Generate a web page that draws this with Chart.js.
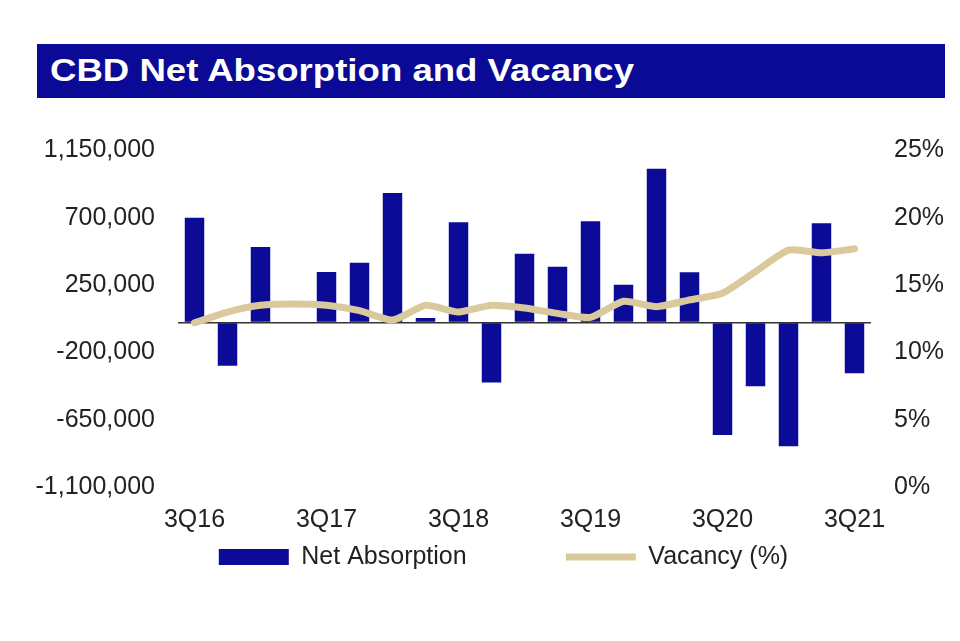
<!DOCTYPE html>
<html>
<head>
<meta charset="utf-8">
<script src="https://cdn.jsdelivr.net/npm/chart.js@4"></script>
<style>
  html, body { margin: 0; padding: 0; background: #fff; }
  body { width: 960px; height: 641px; position: relative; overflow: hidden; font-family: "Liberation Sans", Arial, sans-serif; }
  .banner { position: absolute; left: 37px; top: 44px; width: 908px; height: 54px; background: #0A0A96; }
  .banner span { position: absolute; left: 13px; top: 9px; color: #fff; font-weight: bold; font-size: 31px; line-height: 36px; white-space: nowrap; transform: scaleX(1.18); transform-origin: left center; }
  /* 凡例を右寄せするため、キャンバスは画面より少し広い */
  .wrap { position: absolute; left: 0; top: 100px; width: 1007px; height: 541px; }
</style>
</head>
<body>
<div class="banner"><span>CBD Net Absorption and Vacancy</span></div>
<div class="wrap"><canvas id="absorptionChart"></canvas></div>
<script>
// 四半期ラベル
const quarters = ['3Q16','4Q16','1Q17','2Q17','3Q17','4Q17','1Q18','2Q18','3Q18','4Q18',
                  '1Q19','2Q19','3Q19','4Q19','1Q20','2Q20','3Q20','4Q20','1Q21','2Q21','3Q21'];
// 表示する軸ラベル
const xTickLabels = ['3Q16','3Q17','3Q18','3Q19','3Q20','3Q21'];
const leftTicks = [-1100000, -650000, -200000, 250000, 700000, 1150000];
const rightTicks = [0, 5, 10, 15, 20, 25];

// 純吸収面積 (sq ft)
const netAbsorption = [700000, -290000, 505000, 0, 338000, 400000, 866000, 30000, 670000, -402000,
                       460000, 373000, 677000, 253000, 1028000, 336000, -752000, -427000, -828000, 663000, -340000];
// 空室率 (%)
const vacancy = [12.2, 13.0, 13.5, 13.6, 13.5, 13.1, 12.4, 13.5, 13.0, 13.5,
                 13.3, 12.9, 12.6, 13.8, 13.4, 13.9, 14.4, 16.0, 17.6, 17.4, 17.7];

Chart.defaults.font.family = '"Liberation Sans", Arial, sans-serif';
Chart.defaults.font.size = 25;
Chart.defaults.color = '#222';

// 凡例の項目間を広げる（padding は上下にも効くため末尾の空白で調整）
const defaultLegendLabels = Chart.defaults.plugins.legend.labels.generateLabels;
function spacedLegendLabels(chart) {
    const items = defaultLegendLabels(chart).sort((a, b) => a.datasetIndex - b.datasetIndex);
    return items.map((item, i) => {
        if (i < items.length - 1) item.text = item.text + '\u00A0'.repeat(6);
        return item;
    });
}

new Chart(document.getElementById('absorptionChart'), {
    type: 'bar',
    data: {
        labels: quarters,
        datasets: [{
            type: 'bar',
            label: 'Net Absorption',
            data: netAbsorption,
            yAxisID: 'y',
            backgroundColor: '#0B0B98',
            barPercentage: 0.59,
            categoryPercentage: 1,
            pointStyle: 'rect',
            order: 1
        }, {
            type: 'line',
            label: 'Vacancy (%)',
            data: vacancy,
            yAxisID: 'y1',
            borderColor: '#D9C99C',
            backgroundColor: '#D9C99C',
            borderWidth: 7,
            borderCapStyle: 'round',
            borderJoinStyle: 'round',
            tension: 0.2,
            pointRadius: 0,
            pointStyle: 'line',
            order: 0
        }]
    },
    options: {
        responsive: true,
        maintainAspectRatio: false,
        animation: false,
        events: [],
        layout: { padding: { top: 50.5, left: 0, right: 0, bottom: 61.5 } },
        plugins: {
            tooltip: { enabled: false },
            legend: {
                position: 'bottom',
                labels: {
                    usePointStyle: true,
                    pointStyleWidth: 70,
                    boxHeight: 16,
                    padding: 57.5,
                    generateLabels: spacedLegendLabels
                }
            }
        },
        scales: {
            x: {
                grid: { display: false, drawTicks: false },
                border: { display: false },
                ticks: {
                    autoSkip: false,
                    maxRotation: 0,
                    // mirror にして軸の高さ外にラベルを描く
                    mirror: true,
                    padding: -48,
                    callback: function(value) {
                        const label = this.getLabelForValue(value);
                        return xTickLabels.includes(label) ? label : '';
                    }
                },
                afterFit: scale => { scale.height = 0; }
            },
            y: {
                position: 'left',
                min: leftTicks[0],
                max: leftTicks[leftTicks.length - 1],
                afterBuildTicks: scale => {
                    scale.ticks = [...leftTicks, 0].sort((a, b) => a - b).map(v => ({ value: v }));
                },
                grid: {
                    drawTicks: false,
                    lineWidth: 1.5,
                    color: ctx => (ctx.tick && ctx.tick.value === 0) ? '#333' : 'rgba(0,0,0,0)'
                },
                border: { display: false },
                ticks: {
                    padding: 23,
                    callback: v => v === 0 ? '' : v.toLocaleString('en-US')
                },
                afterFit: scale => { scale.width = 178; }
            },
            y1: {
                position: 'right',
                min: rightTicks[0],
                max: rightTicks[rightTicks.length - 1],
                afterBuildTicks: scale => {
                    scale.ticks = rightTicks.map(v => ({ value: v }));
                },
                grid: { display: false, drawTicks: false },
                border: { display: false },
                ticks: {
                    padding: 23,
                    callback: v => v + '%'
                },
                afterFit: scale => { scale.width = 136; }
            }
        }
    }
});
</script>
</body>
</html>
